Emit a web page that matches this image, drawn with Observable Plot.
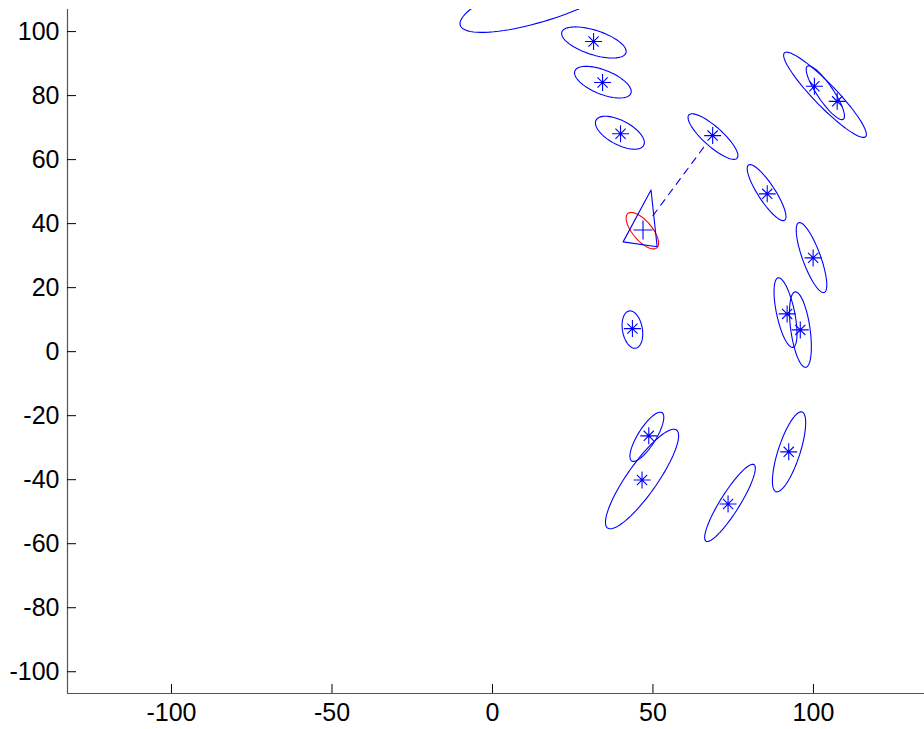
<!DOCTYPE html>
<html>
<head>
<meta charset="utf-8">
<script src="https://cdn.jsdelivr.net/npm/d3@7"></script>
<script src="https://cdn.jsdelivr.net/npm/@observablehq/plot@0.6"></script>
<style>
html, body { margin: 0; padding: 0; background: #ffffff; overflow: hidden; }
#chart svg { display: block; }
</style>
</head>
<body>
<div id="chart"></div>
<script>
// ---- tick labels ----
const xTicks = [-100, -50, 0, 50, 100];
const yTicks = [-100, -80, -60, -40, -20, 0, 20, 40, 60, 80, 100];
const xDomain = [-132.4, 134.6];
const yDomain = [-106.8, 106.9];

// ---- estimated landmark positions (stars) ----
const landmarkX = [31.5, 34.3, 39.9, 100.3, 107.4, 68.6, 85.6, 99.9, 91.8, 95.9, 43.6, 48.7, 46.6, 73.4, 92.3];
const landmarkY = [96.9, 84.1, 68.1, 82.9, 78.2, 67.5, 49.3, 29.3, 11.8, 6.8, 7.2, -26.3, -40.1, -47.6, -31.3];

// ---- landmark covariance ellipses: centre, semi-axes, orientation (deg) ----
const ellipseCx    = [31.6, 34.4, 39.7, 16.6, 103.6, 103.7, 68.7, 85.4, 99.4, 91.3, 95.95, 43.6, 48.1, 46.6, 74.0, 92.4];
const ellipseCy    = [96.6, 84.2, 68.4, 110.6, 80.25, 80.9, 67.2, 49.7, 29.4, 12.2, 6.9, 6.9, -26.6, -39.8, -47.25, -31.3];
const ellipseA     = [10.5, 9.4, 8.4, 28, 18.2, 10, 10.1, 10.3, 11.6, 11.1, 11.9, 5.9, 8.9, 18.7, 14.1, 13.1];
const ellipseB     = [3.8, 3.75, 3.75, 6.9, 3.5, 2.5, 3.0, 2.65, 2.8, 2.8, 3.0, 3.1, 2.8, 4.7, 3.0, 3.4];
const ellipseAngle = [-18, -22, -28, 18, -46, -56, -42, -57, -70, -78, -82, -80, 58, 55, 58, 72];

// ---- robot pose estimate ----
const robotX = [46.9];
const robotY = [38.0];
const robotEllipse = {cx: 46.7, cy: 37.8, a: 7, b: 3, angle: -50};
const robotTriangleX = [49.4, 40.7, 51.3, 49.4];
const robotTriangleY = [50.5, 34.3, 32.8, 50.5];

// ---- observation line (robot -> landmark) ----
const observationX = [50.0, 66.0];
const observationY = [42.5, 64.1];

// ---- build tables ----
function ellipsePoints(id, cx, cy, a, b, angleDeg) {
  const th = angleDeg * Math.PI / 180, n = 90, pts = [];
  for (let k = 0; k <= n; k++) {
    const t = 2 * Math.PI * k / n;
    const u = a * Math.cos(t), v = b * Math.sin(t);
    pts.push({id, x: cx + u * Math.cos(th) - v * Math.sin(th), y: cy + u * Math.sin(th) + v * Math.cos(th)});
  }
  return pts;
}
const landmarkEllipses = ellipseCx.flatMap((cx, i) =>
  ellipsePoints(i, cx, ellipseCy[i], ellipseA[i], ellipseB[i], ellipseAngle[i]));
const robotEllipsePts = ellipsePoints(0, robotEllipse.cx, robotEllipse.cy, robotEllipse.a, robotEllipse.b, robotEllipse.angle);
const landmarks = landmarkX.map((x, i) => ({x, y: landmarkY[i]}));
const robot = robotX.map((x, i) => ({x, y: robotY[i]}));
const triangle = robotTriangleX.map((x, i) => ({x, y: robotTriangleY[i]}));
const observation = observationX.map((x, i) => ({x, y: observationY[i]}));

const asterisk = {
  draw(context, size) {
    const r = Math.sqrt(size / Math.PI), d = r * 0.6;
    context.moveTo(-r, 0); context.lineTo(r, 0);
    context.moveTo(0, -r); context.lineTo(0, r);
    context.moveTo(-d, -d); context.lineTo(d, d);
    context.moveTo(-d, d); context.lineTo(d, -d);
  }
};
const plus = {
  draw(context, size) {
    const r = Math.sqrt(size / Math.PI);
    context.moveTo(-r, 0); context.lineTo(r, 0);
    context.moveTo(0, -r); context.lineTo(0, r);
  }
};

const blue = "#0000ff";
const fmt = d => String(d);

const chart = Plot.plot({
  width: 924,
  height: 729,
  marginLeft: 67,
  marginRight: 0,
  marginTop: 9,
  marginBottom: 36,
  style: {fontFamily: "'Liberation Sans', Arial, Helvetica, sans-serif", fontSize: "25px", background: "#ffffff", color: "#000000"},
  x: {domain: xDomain},
  y: {domain: yDomain},
  marks: [
    Plot.line(landmarkEllipses, {x: "x", y: "y", z: "id", stroke: blue, strokeWidth: 1.1, clip: true}),
    Plot.line(robotEllipsePts, {x: "x", y: "y", stroke: "#ff0000", strokeWidth: 1.1}),
    Plot.line(triangle, {x: "x", y: "y", stroke: blue, strokeWidth: 1.1}),
    Plot.line(observation, {x: "x", y: "y", stroke: blue, strokeWidth: 1.1, strokeDasharray: "7,6"}),
    Plot.dot(landmarks, {x: "x", y: "y", symbol: asterisk, r: 8.5, stroke: blue, strokeWidth: 1.1, fill: "none"}),
    Plot.dot(robot, {x: "x", y: "y", symbol: plus, r: 9.5, stroke: blue, strokeWidth: 1.1, fill: "none"}),
    // axis lines
    Plot.ruleX([xDomain[0]], {stroke: "#555555", strokeWidth: 1.2}),
    Plot.ruleY([yDomain[0]], {stroke: "#555555", strokeWidth: 1.2}),
    // inward ticks
    Plot.ruleY(yTicks, {y: d => d, x1: () => xDomain[0], x2: () => xDomain[0], insetRight: -9, stroke: "#000000", strokeWidth: 1}),
    Plot.ruleX(xTicks, {x: d => d, y1: () => yDomain[0], y2: () => yDomain[0], insetBottom: 9, stroke: "#000000", strokeWidth: 1}),
    // tick labels
    Plot.axisY(yTicks, {tickSize: 0, tickPadding: 8, tickFormat: fmt, label: null, fontSize: 25}),
    Plot.axisX(xTicks, {tickSize: 0, tickPadding: 10, tickFormat: fmt, label: null, fontSize: 25})
  ]
});
document.getElementById("chart").appendChild(chart);
</script>
</body>
</html>
